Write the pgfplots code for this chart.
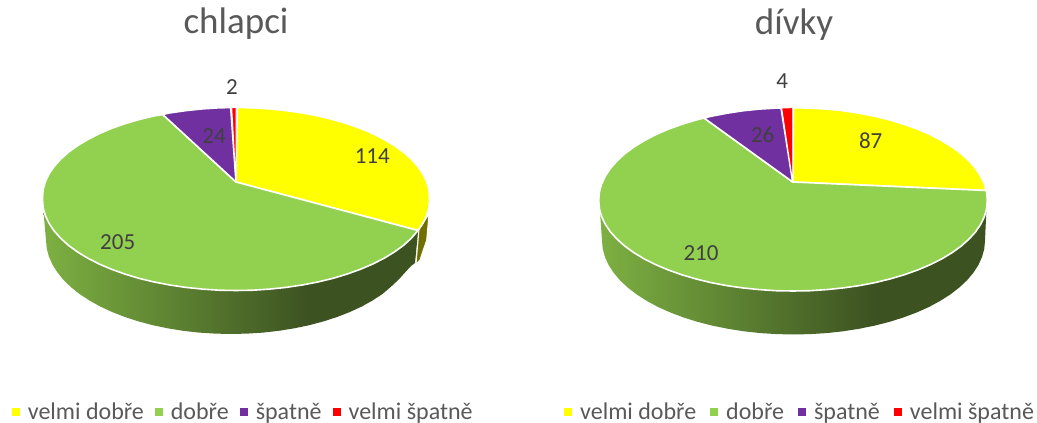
\documentclass[border=0pt]{standalone}
\usepackage{fontspec}
\setmainfont{Carlito}
\usepackage{pgfplots}
\pgfplotsset{compat=1.18}
\definecolor{vd}{HTML}{FFFF00}
\definecolor{dd}{HTML}{92D050}
\definecolor{sp}{HTML}{7030A0}
\definecolor{vs}{HTML}{FF0000}
\definecolor{olive3d}{HTML}{707000}
\definecolor{txt}{HTML}{595959}
\definecolor{lab}{HTML}{404040}
\definecolor{sidelight}{RGB}{125,176,66}
\definecolor{sidedark}{RGB}{60,82,33}
\pgfdeclarehorizontalshading{sidegreen}{100bp}{
  color(0bp)=(sidelight);
  color(25bp)=(sidelight);
  color(60.5bp)=(sidedark);
  color(100bp)=(sidedark)}
\pgfplotsset{
  pie/.style={
    width=518.5pt, height=423pt, scale only axis,
    ymin=0, ymax=423, y dir=reverse,
    hide axis, clip=false,
    title style={font=\fontsize{37}{40}\selectfont, text=txt, anchor=center},
    legend columns=4,
    legend cell align=left,
    legend image code/.code={\fill[##1,draw=none] (0pt,-4pt) rectangle (8pt,4pt);},
  },
  wedge/.style={fill=#1, draw=white, line width=1.6pt, line join=round},
  vals/.style={draw=none, forget plot, nodes near coords={\pgfplotspointmeta},
    point meta=explicit symbolic,
    every node near coord/.append style={anchor=center, inner sep=0pt,
      font=\fontsize{23}{26}\selectfont, text=lab}},
}
\begin{document}
\begin{tikzpicture}
\useasboundingbox (0pt,0pt) rectangle (1037pt,423pt);
% left pie, coordinates are pixels of the picture
\begin{axis}[pie, xmin=0, xmax=518.5,
  title={chlapci},
  title style={at={(0.4552,0.929)}},
  legend style={draw=none, fill=none, inner sep=0pt, anchor=west, at={(0.0225,0.026)},
    font=\fontsize{24}{26}\selectfont, text=txt,
    nodes={inner sep=0pt, text=txt},
    /tikz/every even column/.append style={column sep=11pt},
    /tikz/every odd column/.append style={column sep=8pt}},
]
\addplot[fill=olive3d, draw=white, line width=1pt, forget plot] coordinates {
(429,214) (419,229) (416,264) (420,260) (426.7,240)} -- cycle;
\addplot[shading=sidegreen, draw=none, forget plot] coordinates {
(43.5,212) (46,240) (46.7,248.2) (48.8,256.3) (52.3,264.3) (57.2,272.1) (63.3,279.7) (70.8,287) (79.4,293.9) (89.3,300.4) (100.2,306.5) (112.1,312) (124.9,317) (138.5,321.4) (152.8,325.2) (167.7,328.3) (183.1,330.8) (198.9,332.6) (214.9,333.6) (231,334) (247.1,333.6) (263.1,332.6) (278.9,330.8) (294.3,328.3) (309.2,325.2) (323.5,321.4) (337.1,317) (349.9,312) (361.8,306.5) (372.7,300.4) (382.6,293.9) (391.2,286.5) (398.7,279.5) (405,272.5) (411,266) (415,263) (418.3,229)} -- cycle;
\addplot[wedge=vd] coordinates {
(237.3,107.6) (252.9,107.8) (269.6,108.9) (286.1,110.6) (302.2,112.9) (317.8,115.9) (332.8,119.5) (347,123.7) (360.4,128.4) (372.8,133.7) (384.2,139.5) (394.5,145.7) (403.6,152.2) (411.4,159.2) (417.8,166.4) (422.9,173.8) (426.6,181.5) (428.8,189.2) (429.5,197) (429.5,200) (428.8,207.9) (426.6,215.7) (422.9,223.4) (418,230.5) (236,182)} -- cycle;
\addlegendentry{velmi dobře}
\addplot[wedge=dd] coordinates {
(418,230.5) (411.4,238.2) (403.6,245.3) (394.5,251.9) (384.2,258.2) (372.8,264) (360.4,269.3) (347,274.1) (332.8,278.4) (317.8,282) (302.2,285) (286.1,287.4) (269.6,289.1) (252.9,290.2) (236,290.5) (219.1,290.2) (202.4,289.1) (185.9,287.4) (169.8,285) (154.2,282) (139.2,278.4) (125,274.1) (111.6,269.3) (99.2,264) (87.8,258.2) (77.5,251.9) (68.4,245.3) (60.6,238.2) (54.2,231) (49.1,223.4) (45.4,215.7) (43.2,207.9) (42.5,200) (42.5,197) (43.2,189.2) (45.4,181.5) (49.1,173.8) (54.2,166.4) (60.6,159.2) (68.4,152.2) (77.5,145.7) (87.8,139.5) (99.2,133.7) (111.6,128.4) (125,123.7) (139.2,119.5) (154.2,115.9) (162.7,114.5) (236,182)} -- cycle;
\addlegendentry{dobře}
\addplot[wedge=sp] coordinates {
(162.7,114.5) (169.8,112.9) (185.9,110.6) (202.4,108.9) (219.1,107.8) (230.7,107.6) (236,182)} -- cycle;
\addlegendentry{špatně}
\addplot[wedge=vs, line width=0.9pt] coordinates {
(231.7,107.6) (236,107.5) (236,182)} -- cycle;
\addlegendentry{velmi špatně}
\addplot[vals] table[meta=v, row sep=\\] {
x y v\\
372.3 156 114\\
117.7 241.7 205\\
214 136 24\\
232 87 2\\
};
\end{axis}
% right pie
\begin{axis}[pie, xshift=518.5pt, xmin=518.5, xmax=1037,
  title={dívky},
  title style={at={(0.5313,0.927)}},
  legend style={draw=none, fill=none, inner sep=0pt, anchor=west, at={(0.0877,0.026)},
    font=\fontsize{24}{26}\selectfont, text=txt,
    nodes={inner sep=0pt, text=txt},
    /tikz/every even column/.append style={column sep=14pt},
    /tikz/every odd column/.append style={column sep=8pt}},
]
\addplot[shading=sidegreen, draw=none, forget plot] coordinates {
(600,212) (602,240.5) (602.7,248.7) (604.9,256.8) (608.5,264.8) (613.5,272.6) (619.9,280.2) (627.7,287.5) (636.6,294.4) (646.8,300.9) (658.1,307) (670.4,312.5) (683.7,317.5) (697.7,321.9) (712.6,325.7) (728,328.8) (743.9,331.3) (760.3,333.1) (776.8,334.1) (793.5,334.5) (810.2,334.1) (826.7,333.1) (843.1,331.3) (859,328.8) (874.4,325.7) (889.3,321.9) (903.3,317.5) (916.6,312.5) (928.9,307) (940.2,300.9) (950.4,294.4) (959.3,287.5) (967.1,280.2) (973.5,272.6) (978.5,264.8) (982.1,256.8) (984.3,248.7) (985,240.5) (986.3,212)} -- cycle;
\addplot[wedge=vd] coordinates {
(793.5,107.7) (809.9,108.1) (826.7,109.1) (843.3,110.8) (859.5,113.3) (875.1,116.3) (890.2,120.1) (904.4,124.4) (917.9,129.3) (930.4,134.7) (941.8,140.7) (952.2,147.1) (961.3,153.8) (969.1,161) (975.6,168.4) (980.7,176.1) (984.4,184) (986,190.5) (792.7,182)} -- cycle;
\addlegendentry{velmi dobře}
\addplot[wedge=dd] coordinates {
(986,190.5) (986.6,192) (987.3,200) (986.6,208.8) (984.4,216.6) (980.7,224.3) (975.6,231.8) (969.1,239) (961.3,246) (952.2,252.6) (941.8,258.9) (930.4,264.6) (917.9,269.9) (904.4,274.7) (890.2,278.9) (875.1,282.6) (859.5,285.6) (843.3,287.9) (826.7,289.6) (809.9,290.7) (793,291) (776.1,290.7) (759.3,289.6) (742.7,287.9) (726.5,285.6) (710.9,282.6) (695.8,278.9) (681.6,274.7) (668.1,269.9) (655.6,264.6) (644.2,258.9) (633.8,252.6) (624.7,246) (616.9,239) (610.4,231.8) (605.3,224.3) (601.6,216.6) (599.4,208.8) (598.7,200) (599.4,192) (601.6,184) (605.3,176.1) (610.4,168.4) (616.9,161) (624.7,153.8) (633.8,147.1) (644.2,140.7) (655.6,134.7) (668.1,129.3) (681.6,124.4) (695.8,120.1) (704,118) (792.7,182)} -- cycle;
\addlegendentry{dobře}
\addplot[wedge=sp] coordinates {
(704,118) (710.9,116.3) (726.5,113.3) (742.7,110.8) (759.3,109.1) (776.1,108.1) (781,108) (792.7,182)} -- cycle;
\addlegendentry{špatně}
\addplot[wedge=vs, line width=0.9pt] coordinates {
(781.7,108) (792.7,107.7) (792.7,182)} -- cycle;
\addlegendentry{velmi špatně}
\addplot[vals] table[meta=v, row sep=\\] {
x y v\\
870.7 141 87\\
701 252.7 210\\
762.7 135 26\\
782.3 81 4\\
};
\end{axis}
\end{tikzpicture}
\end{document}
